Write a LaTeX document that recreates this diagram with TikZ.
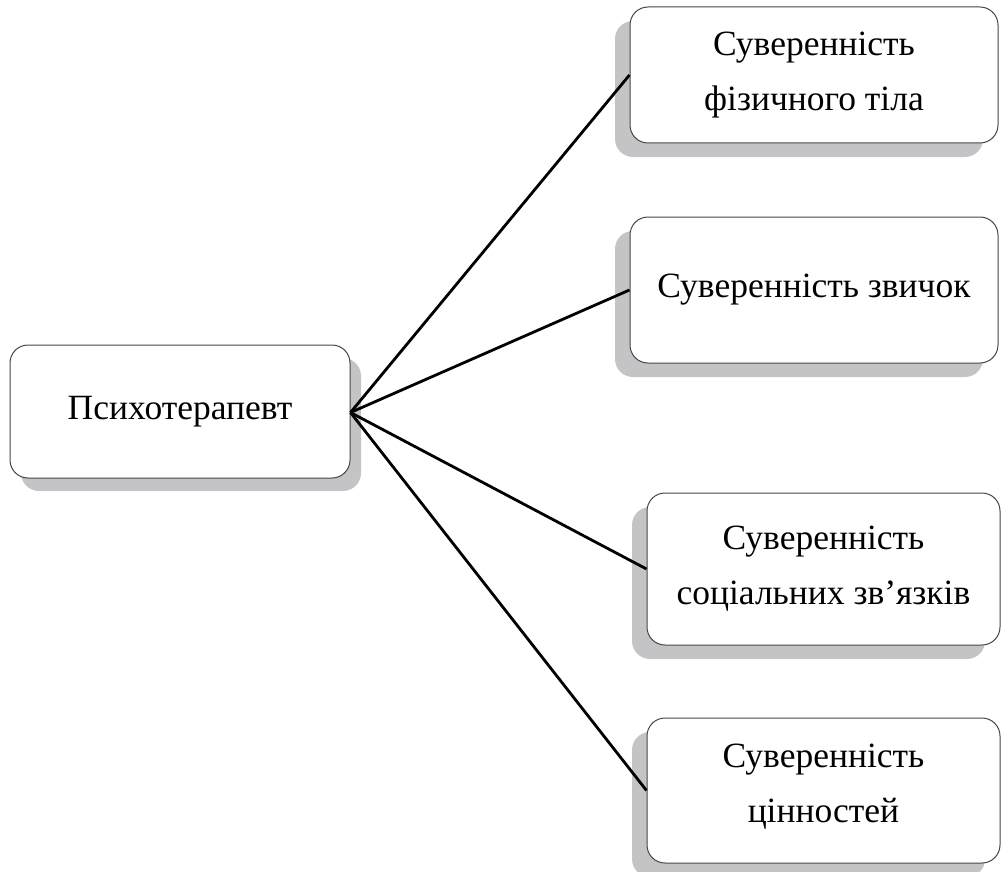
\documentclass[tikz,border=0pt]{standalone}
\usepackage{fontspec}
\setmainfont{Liberation Serif}
\usetikzlibrary{shadows}
\definecolor{shadowgray}{RGB}{196,196,198}
\definecolor{boxline}{RGB}{70,70,70}
\tikzset{
  box/.style={draw=boxline, line width=1pt, fill=white, rounded corners=18pt,
    align=center, inner sep=0pt, font=\fontsize{35.5}{55}\selectfont},
  shadowR/.style={drop shadow={shadow xshift=11pt, shadow yshift=-13pt, fill=shadowgray, opacity=1}},
  shadowL/.style={drop shadow={shadow xshift=-15pt, shadow yshift=-14pt, fill=shadowgray, opacity=1}},
  conn/.style={line width=2.8pt, black}
}
\begin{document}
\begin{tikzpicture}[x=1pt,y=1pt]
\useasboundingbox (0,0) rectangle (1001,-872);
\node[box, shadowR, minimum width=340pt, minimum height=133pt] (psy) at (180,-411.5) {Психотерапевт};
\node[box, shadowL, minimum width=368pt, minimum height=136pt] (b1) at (814,-75) {Суверенність\\фізичного тіла};
\node[box, shadowL, minimum width=368pt, minimum height=146pt] (b2) at (814,-290) {Суверенність звичок};
\node[box, shadowL, minimum width=353pt, minimum height=152pt] (b3) at (823.5,-569) {Суверенність\\соціальних зв’язків};
\node[box, shadowL, minimum width=353pt, minimum height=145pt, text depth=14pt] (b4) at (823.5,-790.5) {Суверенність\\цінностей};
\coordinate (o) at ([yshift=-1pt]psy.east);
\draw[conn] (o) -- (b1.west);
\draw[conn] (o) -- (b2.west);
\draw[conn] (o) -- (b3.west);
\draw[conn] (o) -- (b4.west);
\end{tikzpicture}
\end{document}
